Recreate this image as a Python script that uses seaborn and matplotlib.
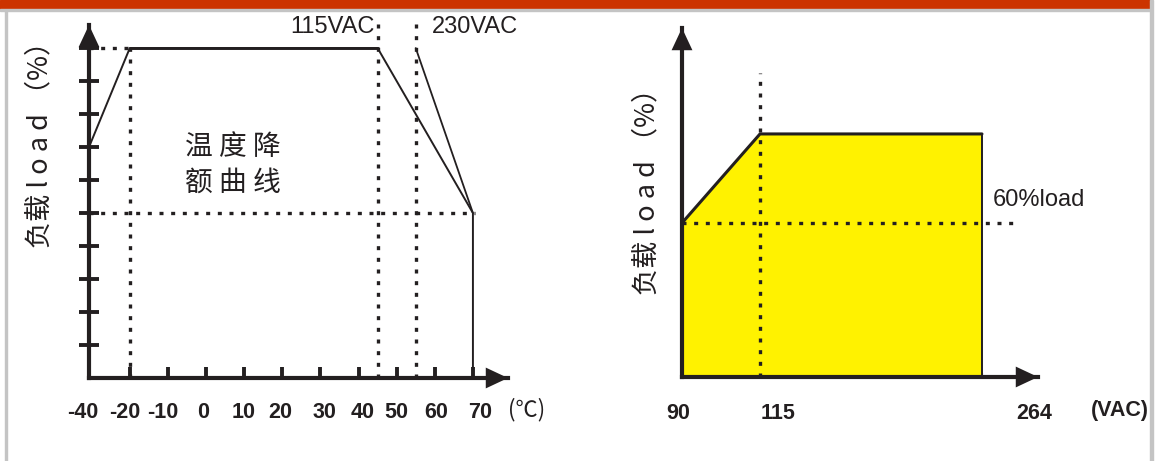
import numpy as np
import pandas as pd
import matplotlib
matplotlib.use("Agg")
import matplotlib.pyplot as plt
import seaborn as sns
from matplotlib import transforms
from matplotlib.patches import Rectangle

# ---------------- data ----------------
temp_ticks = [-40, -20, -10, 0, 10, 20, 30, 40, 50, 60, 70]
temp_tick_labels = ["-40", "-20", "-10", "0", "10", "20", "30", "40", "50", "60", "70"]
load_ticks = [10, 20, 30, 40, 50, 60, 70, 80, 90, 100]

curve115_temp = [-40, -20, 45, 70, 70]
curve115_load = [70, 100, 100, 50, 0]
curve230_temp = [55, 70]
curve230_load = [100, 50]
flat_temp = [-20, 45]
flat_load = [100, 100]

ref_temp_low = -20
ref_temp_115 = 45
ref_temp_230 = 55
ref_load_full = 100
ref_load_half = 50

vac_ticks = [90, 115, 264]
vac_tick_labels = ["90", "115", "264"]
vac_curve_v = [90, 115, 264]
vac_curve_load = [60, 100, 100]
ref_vac = 115
ref_load_vac = 60

INK = "#231F20"
YELLOW = "#FFF200"

# ---------------- style ----------------
sns.set_theme(style="white")
plt.rcParams["font.family"] = ["Liberation Sans", "Noto Sans CJK SC", "DejaVu Sans"]

fig = plt.figure(figsize=(11.57, 4.61), dpi=100)
W, H = 1157, 461

def px_axes(x0, x1, ytop, ybot):
    return fig.add_axes([x0 / W, (H - ybot) / H, (x1 - x0) / W, (ybot - ytop) / H])

# frame decorations
fig.patches.append(Rectangle((0, (H - 9) / H), 1150 / W, 9 / H, transform=fig.transFigure,
                             color="#CC3300", zorder=0))
fig.patches.append(Rectangle((0, (H - 11) / H), 1150 / W, 2 / H, transform=fig.transFigure,
                             color="#C4C4C4", zorder=0))
fig.patches.append(Rectangle((5 / W, 0), 2 / W, (H - 11) / H, transform=fig.transFigure,
                             color="#C4C4C4", zorder=0))
fig.patches.append(Rectangle((1150 / W, 0), 3 / W, 1, transform=fig.transFigure,
                             color="#C4C4C4", zorder=0))

dot = (0, (1.2, 2.3))
DOT_LW = 2.4

def arrow_axes(ax):
    for sp in ["top", "right"]:
        ax.spines[sp].set_visible(False)
    for sp in ["left", "bottom"]:
        ax.spines[sp].set_linewidth(3.0)
        ax.spines[sp].set_color(INK)
    style = "-|>,head_length=1.6,head_width=0.75"
    ax.annotate("", xy=(0, 1), xycoords="axes fraction", xytext=(0, 0.9),
                arrowprops=dict(arrowstyle=style, mutation_scale=10, lw=0, color=INK,
                                shrinkA=0, shrinkB=0), annotation_clip=False)
    ax.annotate("", xy=(1, 0), xycoords="axes fraction", xytext=(0.9, 0),
                arrowprops=dict(arrowstyle=style, mutation_scale=10, lw=0, color=INK,
                                shrinkA=0, shrinkB=0), annotation_clip=False)
    ax.set_facecolor("none")
    ax.grid(False)
    ax.set_xlabel("")
    ax.set_ylabel("")

# ---------------- left chart: temperature derating ----------------
k = 10.7 / 20.0
def tfwd(x):
    x = np.asarray(x, dtype=float)
    return np.where(x < -20, -20 + (x + 20) * k, x)
def tinv(p):
    p = np.asarray(p, dtype=float)
    return np.where(p < -20, -20 + (p + 20) / k, p)

ax1 = px_axes(89, 508, 25, 378)
ax1.set_xscale("function", functions=(tfwd, tinv))
ax1.set_xlim(-40, 79.2)
ax1.set_ylim(0, 107)

# dotted reference lines
ax1.plot([-40, ref_temp_low], [ref_load_full] * 2, ls=dot, lw=DOT_LW, color=INK)
ax1.plot([-40, 70.45], [ref_load_half] * 2, ls=dot, lw=DOT_LW, color=INK, clip_on=False)
ax1.plot([ref_temp_low] * 2, [0, ref_load_full], ls=dot, lw=DOT_LW, color=INK)
ax1.plot([ref_temp_115] * 2, [0, 109], ls=dot, lw=DOT_LW, color=INK, clip_on=False)
ax1.plot([ref_temp_230] * 2, [0, 109], ls=dot, lw=DOT_LW, color=INK, clip_on=False)

df115 = pd.DataFrame({"temp": curve115_temp, "load": curve115_load})
df230 = pd.DataFrame({"temp": curve230_temp, "load": curve230_load})
dflat = pd.DataFrame({"temp": flat_temp, "load": flat_load})
sns.lineplot(data=df115, x="temp", y="load", sort=False, estimator=None, ax=ax1,
             color=INK, lw=1.4)
sns.lineplot(data=df230, x="temp", y="load", sort=False, estimator=None, ax=ax1,
             color=INK, lw=1.3)
sns.lineplot(data=dflat, x="temp", y="load", sort=False, estimator=None, ax=ax1,
             color=INK, lw=2.1)

arrow_axes(ax1)
ax1.set_xticks(temp_ticks, temp_tick_labels)
ax1.set_yticks(load_ticks, [])
ax1.tick_params(axis="x", bottom=True, direction="in", length=8, width=2.8, color=INK,
                pad=17, labelsize=15.5, labelcolor=INK)
ax1.tick_params(axis="y", left=True, direction="inout", length=15, width=2.8, color=INK)
for lab in ax1.get_xticklabels():
    lab.set_fontweight("bold")
left_offsets = [-6, -5, -5, -3, -1, -2, 4, 4, 0, 1, 7]
for lab, dx in zip(ax1.get_xticklabels(), left_offsets):
    lab.set_transform(lab.get_transform() + transforms.ScaledTranslation(dx / 100, 0, fig.dpi_scale_trans))

ax1.text(44.3, 106.5, "115VAC", ha="right", va="center", fontsize=17, color=INK)
ax1.text(59.2, 106.5, "230VAC", ha="left", va="center", fontsize=17, color=INK)
ax1.text(7.0, 64.5, "温 度 降\n额 曲 线", ha="center", va="center", fontsize=20,
         family=["Noto Sans CJK SC", "DejaVu Sans"], color=INK, linespacing=1.25)

fig.text(40 / W, 1 - 138 / H, "负载 l o a d （%）", rotation=90, ha="center", va="center",
         fontsize=19.5, family=["Noto Sans CJK SC", "DejaVu Sans"], color=INK)
fig.text(527 / W, 1 - 410 / H, "(℃)", ha="center", va="center", fontsize=16,
         family=["Noto Sans CJK SC", "DejaVu Sans"], color=INK)

# ---------------- right chart: input voltage derating ----------------
def vfwd(v):
    v = np.asarray(v, dtype=float)
    return np.where(v <= 115, (v - 90) * 78 / 25, 78 + (v - 115) * 222 / 149)
def vinv(p):
    p = np.asarray(p, dtype=float)
    return np.where(p <= 78, 90 + p * 25 / 78, 115 + (p - 78) * 149 / 222)

ax2 = px_axes(682, 1038, 28, 377)
ax2.set_xscale("function", functions=(vfwd, vinv))
ax2.set_xlim(90, 301.6)
ax2.set_ylim(-9.2, 147.6)
ybot = ax2.get_ylim()[0]

vx = np.array(vac_curve_v, dtype=float)
vy = np.array(vac_curve_load, dtype=float)
ax2.fill_between(vx, vy, ybot, color=YELLOW, lw=0, zorder=1)
ax2.plot([ref_vac] * 2, [ybot, 127.4], ls=dot, lw=DOT_LW, color=INK, zorder=2)
ax2.plot([90, 289.5], [ref_load_vac] * 2, ls=dot, lw=DOT_LW, color=INK, zorder=2, clip_on=False)
dfv = pd.DataFrame({"vac": vac_curve_v, "load": vac_curve_load})
sns.lineplot(data=dfv, x="vac", y="load", sort=False, estimator=None, ax=ax2,
             color=INK, lw=2.2, zorder=3)
ax2.plot([vac_curve_v[-1]] * 2, [ybot, vac_curve_load[-1]], color=INK, lw=1.4, zorder=3)

arrow_axes(ax2)
ax2.set_xticks(vac_ticks, vac_tick_labels)
ax2.set_yticks([])
ax2.tick_params(axis="x", bottom=True, direction="in", length=3, width=1.5, color=INK,
                pad=19, labelsize=15.5, labelcolor=INK)
for lab in ax2.get_xticklabels():
    lab.set_fontweight("bold")
right_offsets = [-4, 18, 52]
for lab, dx in zip(ax2.get_xticklabels(), right_offsets):
    lab.set_transform(lab.get_transform() + transforms.ScaledTranslation(dx / 100, 0, fig.dpi_scale_trans))

ax2.text(271.4, 70.3, "60%load", ha="left", va="center", fontsize=17, color=INK,
         clip_on=False)
fig.text(1120 / W, 1 - 410 / H, "(VAC)", ha="center", va="center", fontsize=15.5,
         fontweight="bold", color=INK)
fig.text(647 / W, 1 - 185 / H, "负载 l o a d （%）", rotation=90, ha="center", va="center",
         fontsize=19.5, family=["Noto Sans CJK SC", "DejaVu Sans"], color=INK)

fig.savefig("out.png", dpi=100)
